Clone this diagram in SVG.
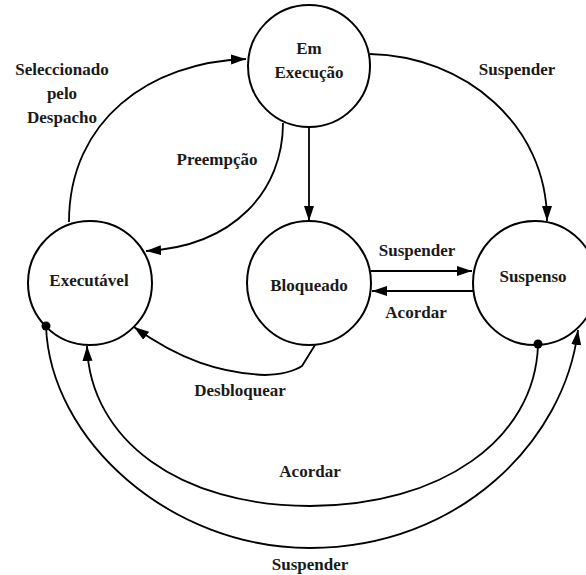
<svg xmlns="http://www.w3.org/2000/svg" width="586" height="575" viewBox="0 0 586 575">
<style>
.node{fill:#fff;stroke:#000;stroke-width:2}
.lbl{font-family:'Liberation Serif','Times New Roman','DejaVu Serif',serif;font-weight:bold;font-size:17px;fill:#1a1a1a;text-anchor:middle}
.edge{fill:none;stroke:#000;stroke-width:1.8}
</style>
<defs>
<marker id="arr" markerUnits="userSpaceOnUse" markerWidth="16" markerHeight="12" refX="15" refY="5" orient="auto">
<path d="M0,0 L15,5 L0,10 Z" fill="#000"/>
</marker>
</defs>
<rect width="586" height="575" fill="#fff"/>
<g id="em-execucao">
<circle class="node" cx="309" cy="66" r="61"/>
<text class="lbl" x="309" y="54" font-family="Liberation Serif, serif">Em</text>
<text class="lbl" x="309" y="78" font-family="Liberation Serif, serif">Execução</text>
</g>
<g id="executavel">
<circle class="node" cx="90" cy="283" r="62"/>
<text class="lbl" x="89" y="286" font-family="Liberation Serif, serif">Executável</text>
</g>
<g id="bloqueado">
<circle class="node" cx="309" cy="283" r="62"/>
<text class="lbl" x="309" y="291" font-family="Liberation Serif, serif">Bloqueado</text>
</g>
<g id="suspenso">
<circle class="node" cx="535" cy="283" r="62"/>
<text class="lbl" x="533" y="282" font-family="Liberation Serif, serif">Suspenso</text>
</g>
<g id="connectors">
<path class="edge" d="M69,222 C69,120 150,62 246,59" marker-end="url(#arr)"/>
<path class="edge" d="M283,123 C283,190 235,246 146,251" marker-end="url(#arr)"/>
<path class="edge" d="M309,128 L309,221" marker-end="url(#arr)"/>
<path class="edge" d="M370,54 C465,56 547,125 547,221" marker-end="url(#arr)"/>
<path class="edge" d="M371,271 L472,271" marker-end="url(#arr)"/>
<path class="edge" d="M473,291 L372,291" marker-end="url(#arr)"/>
<path class="edge" d="M315,345 L302,366 Q290,374 265,375 C220,373 180,360 134,327" marker-end="url(#arr)"/>
<path class="edge" d="M46,326 C50,440 170,548 310,548 C460,548 565,440 578,330" marker-end="url(#arr)"/>
<path class="edge" d="M538,345 C535,440 440,506 310,506 C180,506 90,440 87,346" marker-end="url(#arr)"/>
<circle cx="46" cy="326" r="4.5" fill="#000"/>
<circle cx="538" cy="344" r="4.5" fill="#000"/>
</g>
<g id="labels">
<text class="lbl" x="62" y="75" font-family="Liberation Serif, serif">Seleccionado</text>
<text class="lbl" x="62" y="99" font-family="Liberation Serif, serif">pelo</text>
<text class="lbl" x="62" y="123" font-family="Liberation Serif, serif">Despacho</text>
<text class="lbl" x="217" y="165" font-family="Liberation Serif, serif">Preempção</text>
<text class="lbl" x="517" y="75" font-family="Liberation Serif, serif">Suspender</text>
<text class="lbl" x="417" y="256" font-family="Liberation Serif, serif">Suspender</text>
<text class="lbl" x="416" y="318" font-family="Liberation Serif, serif">Acordar</text>
<text class="lbl" x="240" y="396" font-family="Liberation Serif, serif">Desbloquear</text>
<text class="lbl" x="310" y="477" font-family="Liberation Serif, serif">Acordar</text>
<text class="lbl" x="310" y="570" font-family="Liberation Serif, serif">Suspender</text>
</g>
</svg>
